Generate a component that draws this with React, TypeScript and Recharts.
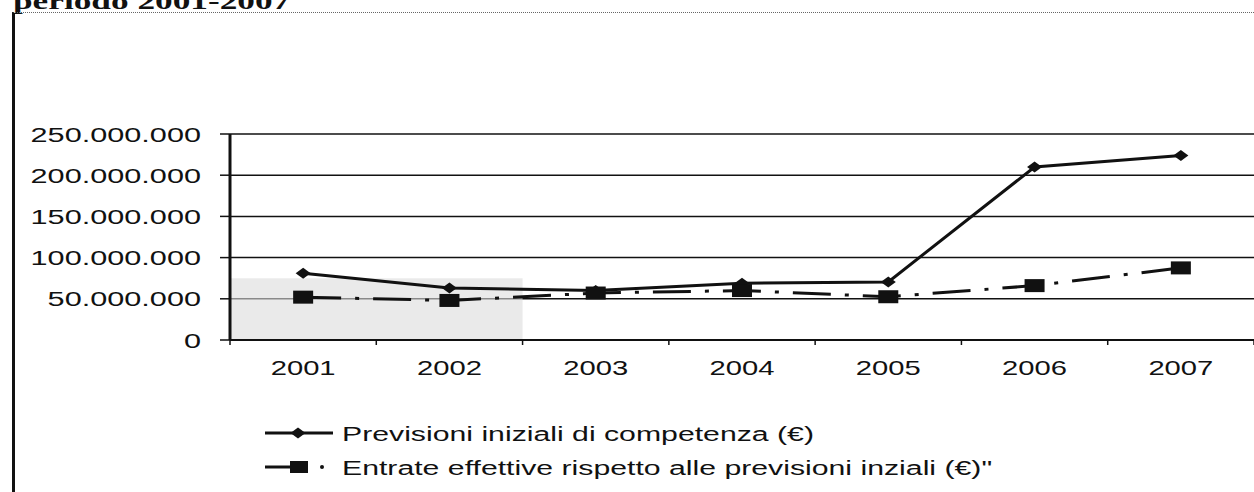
import React from 'react';
import {
  LineChart,
  Line,
  XAxis,
  YAxis,
  CartesianGrid,
  Legend,
  ReferenceArea,
} from 'recharts';

// valori (euro)
const anni = ['2001', '2002', '2003', '2004', '2005', '2006', '2007'];
const previsioni = [81000000, 63000000, 60000000, 69000000, 70500000, 210000000, 224000000];
const entrate = [52000000, 48000000, 57000000, 60000000, 52500000, 66000000, 87500000];
const yTicks = [0, 50000000, 100000000, 150000000, 200000000, 250000000];
const nomiSerie = [
  'Previsioni iniziali di competenza (€)',
  'Entrate effettive rispetto alle previsioni inziali (€)"',
];
const titolo = 'periodo 2001-2007';

// fondo grigio della scansione
const ombraX = ['2001', '2002'];
const ombraY = [0, 75000000];

const data = anni.map((anno, i) => ({
  anno,
  previsioni: previsioni[i],
  entrate: entrate[i],
}));

const FONT = '"Liberation Sans", Arial, sans-serif';
const STRETCH = 1.46;
const INK = '#111';

const fmt = (v: number) => String(v).replace(/\B(?=(\d{3})+(?!\d))/g, '.');

const Diamond = ({ cx, cy }: any) => (
  <path
    d={`M${cx - 7.5},${cy} L${cx},${cy - 5.5} L${cx + 7.5},${cy} L${cx},${cy + 5.5} Z`}
    fill={INK}
  />
);

const Square = ({ cx, cy }: any) => (
  <rect x={cx - 10} y={cy - 6.5} width={20} height={13} fill={INK} />
);

const YTick = ({ x, y, payload }: any) => (
  <g>
    <line x1={x - 10} x2={x} y1={y} y2={y} stroke={INK} strokeWidth={1.5} />
    <g transform={`translate(${x - 29},${y + 7.5}) scale(${STRETCH},1)`}>
      <text textAnchor="end" fontFamily={FONT} fontSize={21} fill={INK}>
        {fmt(payload.value)}
      </text>
    </g>
  </g>
);

const XTick = ({ x, y, payload, index }: any) => {
  const half = payload.offset || 73;
  return (
    <g>
      {index === 0 && (
        <line x1={x - half} x2={x - half} y1={y} y2={y + 5} stroke={INK} strokeWidth={1.5} />
      )}
      <line x1={x + half} x2={x + half} y1={y} y2={y + 5} stroke={INK} strokeWidth={1.5} />
      <g transform={`translate(${x},${y + 35}) scale(${STRETCH},1)`}>
        <text textAnchor="middle" fontFamily={FONT} fontSize={20} fill={INK}>
          {payload.value}
        </text>
      </g>
    </g>
  );
};

const Legenda = () => (
  <svg width={1254} height={92} style={{ overflow: 'visible', display: 'block' }}>
    <line x1={265} x2={333} y1={33} y2={33} stroke={INK} strokeWidth={3} />
    <Diamond cx={298} cy={33} />
    <g transform={`translate(342,40.5) scale(1.44,1)`}>
      <text fontFamily={FONT} fontSize={21} fill={INK}>{nomiSerie[0]}</text>
    </g>
    <line x1={265} x2={292} y1={67} y2={67} stroke={INK} strokeWidth={3} />
    <rect x={290} y={61} width={18} height={12} fill={INK} />
    <circle cx={322} cy={67} r={2} fill={INK} />
    <g transform={`translate(342,74.5) scale(1.44,1)`}>
      <text fontFamily={FONT} fontSize={21} fill={INK}>{nomiSerie[1]}</text>
    </g>
  </svg>
);

export default function App() {
  return (
    <div
      style={{
        position: 'absolute',
        left: 0,
        top: 0,
        width: 1254,
        height: 492,
        background: '#fff',
        overflow: 'hidden',
      }}
    >
      <svg width={600} height={20} style={{ position: 'absolute', left: 0, top: 0 }}>
        <g transform={`translate(13,9) scale(1.47,1)`}>
          <text fontFamily='"Liberation Serif", "Times New Roman", serif' fontWeight="bold" fontSize={24} fill={INK}>
            {titolo}
          </text>
        </g>
      </svg>
      <div
        style={{
          position: 'absolute',
          left: 12,
          top: 12,
          width: 1242,
          height: 480,
          borderLeft: `3px solid ${INK}`,
          borderTop: '1px dotted #666',
          boxSizing: 'border-box',
        }}
      />
      <div style={{ position: 'absolute', left: 0, top: 0 }}>
        <LineChart
          width={1254}
          height={492}
          data={data}
          margin={{ top: 134, right: 0, bottom: 122, left: 0 }}
        >
          <ReferenceArea
            x1={ombraX[0]}
            x2={ombraX[1]}
            y1={ombraY[0]}
            y2={ombraY[1]}
            fill="#dcdcdc"
            fillOpacity={0.6}
            stroke="none"
            ifOverflow="hidden"
          />
          <CartesianGrid vertical={false} stroke={INK} strokeWidth={1.5} strokeDasharray="" />
          <XAxis
            dataKey="anno"
            scale="band"
            height={30}
            axisLine={{ stroke: INK, strokeWidth: 2 }}
            tickLine={false}
            tickSize={0}
            tickMargin={0}
            tick={(p: any) => <XTick {...p} />}
            interval={0}
          />
          <YAxis
            width={230}
            domain={[0, 250000000]}
            ticks={yTicks}
            axisLine={{ stroke: INK, strokeWidth: 3 }}
            tickLine={false}
            tickSize={0}
            tickMargin={0}
            tick={(p: any) => <YTick {...p} />}
            interval={0}
          />
          <Line
            type="linear"
            dataKey="previsioni"
            name={nomiSerie[0]}
            stroke={INK}
            strokeWidth={3}
            dot={(p: any) => <Diamond key={`d-${p.index}`} cx={p.cx} cy={p.cy} />}
            isAnimationActive={false}
          />
          <Line
            type="linear"
            dataKey="entrate"
            name={nomiSerie[1]}
            stroke={INK}
            strokeWidth={3}
            strokeDasharray="38 14 4 14"
            dot={(p: any) => <Square key={`s-${p.index}`} cx={p.cx} cy={p.cy} />}
            isAnimationActive={false}
          />
          <Legend
            content={() => <Legenda />}
            wrapperStyle={{
              position: 'absolute',
              left: 0,
              top: 400,
              width: 1254,
              height: 0,
              overflow: 'visible',
            }}
          />
        </LineChart>
      </div>
    </div>
  );
}
